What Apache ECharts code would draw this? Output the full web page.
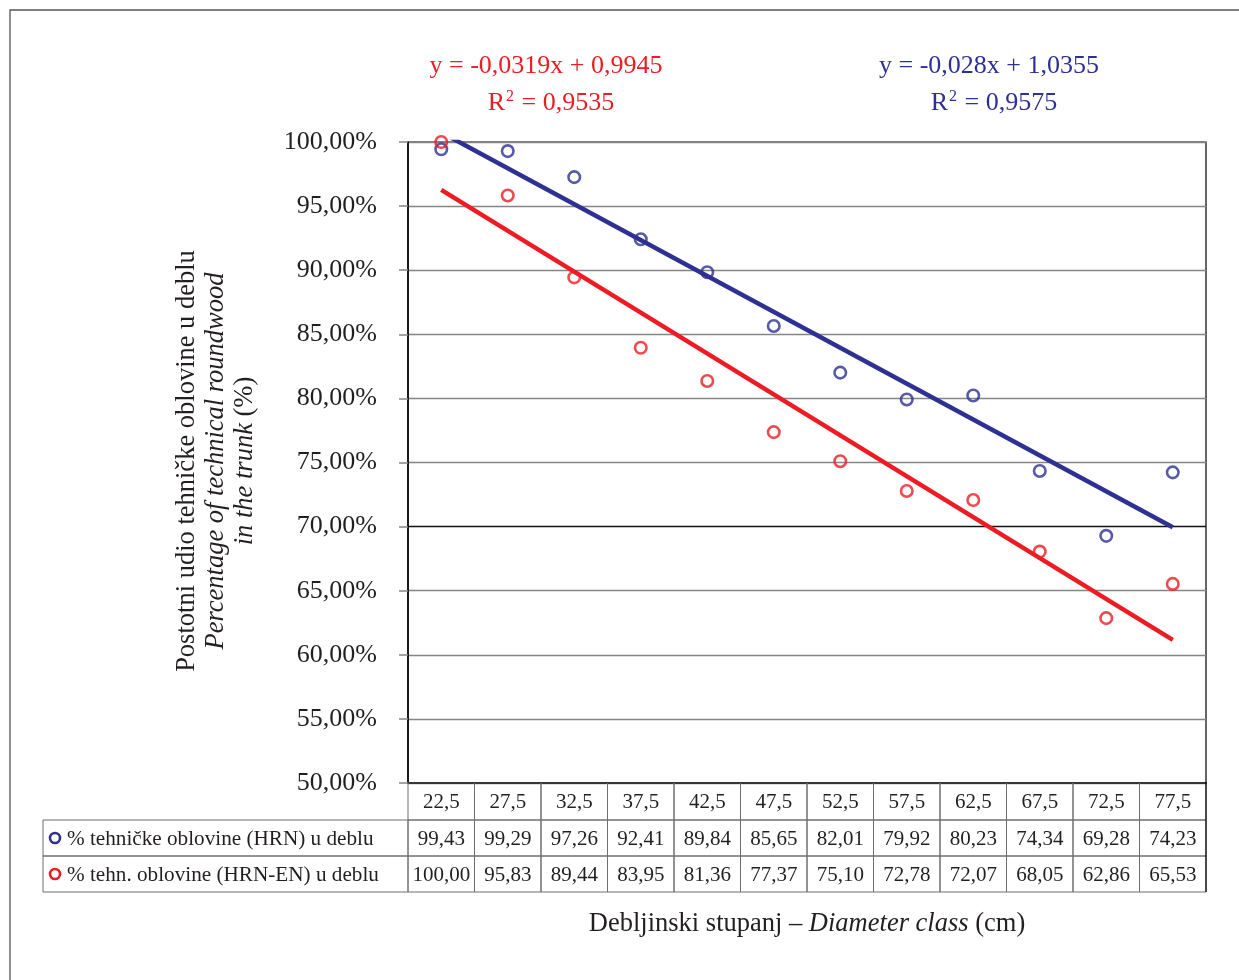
<!DOCTYPE html>
<html>
<head>
<meta charset="utf-8">
<script src="https://cdn.jsdelivr.net/npm/echarts@6/dist/echarts.min.js"></script>
<style>
  html, body { margin: 0; padding: 0; background: #ffffff; }
  #chart { width: 1239px; height: 980px; }
</style>
</head>
<body>
<div id="chart"></div>
<script>
// Diameter classes (cm) and share of technical roundwood in the trunk (%)
const diameterClasses = ['22,5', '27,5', '32,5', '37,5', '42,5', '47,5', '52,5', '57,5', '62,5', '67,5', '72,5', '77,5'];
const shareHRN   = [99.43, 99.29, 97.26, 92.41, 89.84, 85.65, 82.01, 79.92, 80.23, 74.34, 69.28, 74.23];
const shareHRNEN = [100.00, 95.83, 89.44, 83.95, 81.36, 77.37, 75.10, 72.78, 72.07, 68.05, 62.86, 65.53];
const seriesNames = ['% tehničke oblovine (HRN) u deblu', '% tehn. oblovine (HRN-EN) u deblu'];

// Linear trends (x = ordinal number of the diameter class)
const trendHRN   = { slope: -0.028,  intercept: 1.0355, r2: 0.9575 };
const trendHRNEN = { slope: -0.0319, intercept: 0.9945, r2: 0.9535 };

// Value axis range (fraction)
const yMin = 0.5, yMax = 1.0, yStep = 0.05;

const BLUE = '#2E3192';
const RED = '#ED1C24';
const INK = '#231f20';
const FONT = '"Liberation Serif", "Times New Roman", serif';
const GRID_GRAY = '#858585';

const comma = v => String(v).replace('.', ',');
const pct = v => (v * 100).toFixed(2).replace('.', ',') + '%';
const eqText = t => 'y = ' + comma(t.slope) + 'x + ' + comma(t.intercept);
const r2Text = t => 'R{s|2} = ' + comma(t.r2);
const trendPoints = t => [[1, t.intercept + t.slope * 1], [diameterClasses.length, t.intercept + t.slope * diameterClasses.length]];

const seriesColors = [BLUE, RED];
const tableRows = [shareHRN, shareHRNEN];

const chart = echarts.init(document.getElementById('chart'), null, { renderer: 'canvas' });

// Data table below the plot: header row with the classes, then one row per series
function renderTable(params, api) {
  const i = params.dataIndex;
  const base = api.coord([api.value(0), yMin]);
  const w = api.size([1, 0])[0];
  const x0 = base[0] - w / 2;
  const y0 = base[1];
  const rowH = [37, 36, 36];
  const children = [];
  const cellStroke = { stroke: '#6e6e6e', lineWidth: 1, fill: null };
  const cellText = (txt, cx, cy) => ({
    type: 'text',
    style: { text: txt, x: cx, y: cy, align: 'center', verticalAlign: 'middle',
             fontFamily: FONT, fontSize: 21, fill: INK }
  });

  let y = y0;
  // header cell
  children.push({ type: 'rect', shape: { x: x0, y: y, width: w, height: rowH[0] }, style: cellStroke });
  children.push(cellText(diameterClasses[i], base[0], y + rowH[0] / 2 + 1));
  y += rowH[0];
  for (let r = 0; r < tableRows.length; r++) {
    children.push({ type: 'rect', shape: { x: x0, y: y, width: w, height: rowH[r + 1] }, style: cellStroke });
    children.push(cellText(tableRows[r][i].toFixed(2).replace('.', ','), base[0], y + rowH[r + 1] / 2 + 1));
    if (i === 0) {
      // series label column with legend keys
      const left = 43;
      children.push({ type: 'rect', shape: { x: left, y: y, width: x0 - left, height: rowH[r + 1] }, style: cellStroke });
      children.push({ type: 'circle', shape: { cx: left + 12, cy: y + rowH[r + 1] / 2, r: 5 },
                      style: { stroke: seriesColors[r], lineWidth: 2.6, fill: null } });
      children.push({ type: 'text', style: { text: seriesNames[r], x: left + 24, y: y + rowH[r + 1] / 2 + 1,
                      align: 'left', verticalAlign: 'middle', fontFamily: FONT, fontSize: 21.2, fill: INK } });
    }
    y += rowH[r + 1];
  }
  if (i === diameterClasses.length - 1) {
    children.push({ type: 'line', shape: { x1: x0 + w, y1: y0 - 1, x2: x0 + w, y2: y },
                    style: { stroke: '#000', lineWidth: 1.2 } });
  }
  return { type: 'group', children: children };
}

const splitColors = [];
for (let k = 0; k <= Math.round((yMax - yMin) / yStep); k++) splitColors.push(k === 4 ? '#111' : GRID_GRAY);

const supRich = color => ({ s: { fontFamily: FONT, fontSize: 16, fill: color, verticalAlign: 'top', padding: [0, 1, 12, 1] } });

const option = {
  backgroundColor: '#ffffff',
  animation: false,
  grid: { left: 408, right: 33, top: 142, bottom: 197, show: true, borderColor: '#000', borderWidth: 1.2, backgroundColor: 'transparent' },
  xAxis: {
    type: 'value', min: 0.5, max: diameterClasses.length + 0.5,
    axisLine: { show: true, lineStyle: { color: '#000', width: 2 } },
    axisTick: { show: false }, axisLabel: { show: false }, splitLine: { show: false }
  },
  yAxis: {
    type: 'value', min: yMin, max: yMax, interval: yStep,
    axisLine: { show: true, lineStyle: { color: '#000', width: 1.5 } },
    axisTick: { show: true, length: 9, lineStyle: { color: GRID_GRAY, width: 1.5 } },
    axisLabel: { formatter: pct, fontFamily: FONT, fontSize: 26, color: INK, margin: 31 },
    splitLine: { show: true, lineStyle: { color: splitColors, width: 1.3 } }
  },
  graphic: [
    { type: 'rect', shape: { x: 10, y: 10, width: 1300, height: 1100 }, style: { fill: null, stroke: '#555', lineWidth: 1.3 }, silent: true },
    { type: 'text', x: 546, y: 66, style: { text: eqText(trendHRNEN), align: 'center', verticalAlign: 'middle', fontFamily: FONT, fontSize: 26, fill: RED } },
    { type: 'text', x: 551, y: 103, style: { text: r2Text(trendHRNEN), align: 'center', verticalAlign: 'middle', fontFamily: FONT, fontSize: 26, fill: RED, rich: supRich(RED) } },
    { type: 'text', x: 989, y: 66, style: { text: eqText(trendHRN), align: 'center', verticalAlign: 'middle', fontFamily: FONT, fontSize: 26, fill: BLUE } },
    { type: 'text', x: 994, y: 103, style: { text: r2Text(trendHRN), align: 'center', verticalAlign: 'middle', fontFamily: FONT, fontSize: 26, fill: BLUE, rich: supRich(BLUE) } },
    { type: 'text', x: 187, y: 461, rotation: Math.PI / 2,
      style: { text: 'Postotni udio tehničke oblovine u deblu', align: 'center', verticalAlign: 'middle', fontFamily: FONT, fontSize: 26.5, fill: INK } },
    { type: 'text', x: 216, y: 461, rotation: Math.PI / 2,
      style: { text: 'Percentage of technical roundwood', align: 'center', verticalAlign: 'middle', fontFamily: FONT, fontSize: 26.5, fontStyle: 'italic', fill: INK } },
    { type: 'text', x: 245, y: 461, rotation: Math.PI / 2,
      style: { text: '{i|in the trunk} (%)', align: 'center', verticalAlign: 'middle', fontFamily: FONT, fontSize: 26.5, fill: INK,
               rich: { i: { fontFamily: FONT, fontSize: 26.5, fontStyle: 'italic', fill: INK } } } },
    { type: 'text', x: 807, y: 924,
      style: { text: 'Debljinski stupanj – {i|Diameter class} (cm)', align: 'center', verticalAlign: 'middle', fontFamily: FONT, fontSize: 26.5, fill: INK,
               rich: { i: { fontFamily: FONT, fontSize: 26.5, fontStyle: 'italic', fill: INK } } } }
  ],
  series: [
    {
      type: 'custom', name: 'table', renderItem: renderTable, clip: false, silent: true, z: 1,
      data: diameterClasses.map((c, i) => [i + 1, yMin])
    },
    {
      type: 'scatter', name: seriesNames[0], symbol: 'circle', symbolSize: 11.5, z: 3,
      itemStyle: { color: 'rgba(255,255,255,0)', borderColor: BLUE, borderWidth: 2.6 },
      data: shareHRN.map((v, i) => [i + 1, v / 100])
    },
    {
      type: 'scatter', name: seriesNames[1], symbol: 'circle', symbolSize: 11.5, z: 3,
      itemStyle: { color: 'rgba(255,255,255,0)', borderColor: RED, borderWidth: 2.6 },
      data: shareHRNEN.map((v, i) => [i + 1, v / 100])
    },
    {
      type: 'line', name: 'trend HRN', showSymbol: false, clip: true, z: 4, silent: true,
      lineStyle: { color: BLUE, width: 4.5, cap: 'butt' },
      data: trendPoints(trendHRN)
    },
    {
      type: 'line', name: 'trend HRN-EN', showSymbol: false, clip: true, z: 4, silent: true,
      lineStyle: { color: RED, width: 4.5, cap: 'butt' },
      data: trendPoints(trendHRNEN)
    }
  ]
};

chart.setOption(option);
</script>
</body>
</html>
